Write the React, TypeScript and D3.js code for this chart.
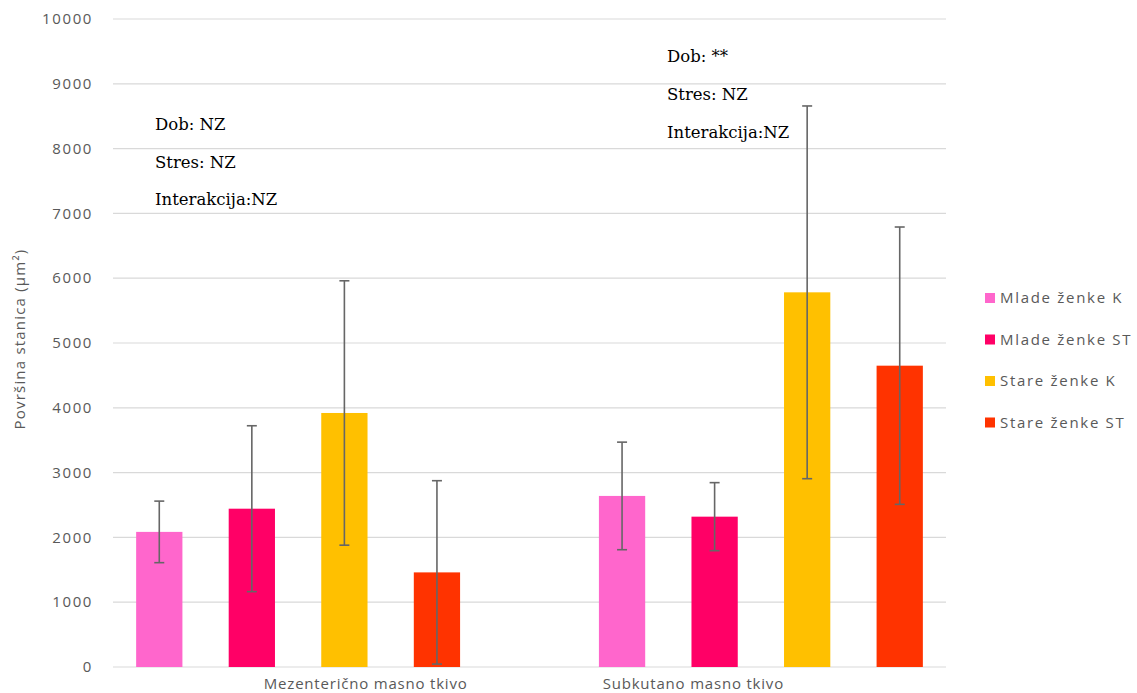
import React from "react";
import * as d3 from "d3";

const categories = ["Mezenterično masno tkivo", "Subkutano masno tkivo"];
const seriesNames = ["Mlade ženke K", "Mlade ženke ST", "Stare ženke K", "Stare ženke ST"];
const seriesColors = ["#ff66cc", "#ff0066", "#ffc000", "#ff3300"];
// means per series, [mezenterično, subkutano]
const means = [
  [2085, 2640],
  [2443, 2320],
  [3920, 5782],
  [1460, 4650],
];
const sds = [
  [475, 830],
  [1280, 525],
  [2040, 2876],
  [1415, 2140],
];
const yTicks = [0, 1000, 2000, 3000, 4000, 5000, 6000, 7000, 8000, 9000, 10000];
const annotLeft = ["Dob: NZ", "Stres: NZ", "Interakcija:NZ"];
const annotRight = ["Dob: **", "Stres: NZ", "Interakcija:NZ"];

const W = 1137;
const H = 693;

export default function App() {
  const y = d3.scaleLinear().domain([0, 10000]).range([667, 19]);
  // slot scale: 4 bars per group, one empty slot between groups
  const slot = d3.scaleLinear().domain([-0.5, 8.5]).range([113, 946]);
  const slotW = slot(1) - slot(0);
  const barW = slotW * 0.5;
  const groupStart = [0, 5];
  const labelSlot = [2.23, 5.77];
  const grey = "#595959";
  const tickFont = "'Open Sans', 'DejaVu Sans', sans-serif";
  const serif = "'DejaVu Serif', serif";

  return (
    <svg width={W} height={H} style={{ position: "absolute", left: 0, top: 0, background: "#fff" }}>
      <rect x={0} y={0} width={W} height={H} fill="#fff" />
      {yTicks.map((t) => (
        <g key={t}>
          <line x1={113} x2={946} y1={y(t)} y2={y(t)} stroke="#d9d9d9" strokeWidth={1.2} />
          <text
            x={93}
            y={y(t)}
            dy="0.35em"
            textAnchor="end"
            fontFamily={tickFont}
            fontSize={15}
            letterSpacing={1.6}
            fill={grey}
          >
            {t}
          </text>
        </g>
      ))}
      <text
        transform={`translate(25,${339}) rotate(-90)`}
        textAnchor="middle"
        fontFamily={tickFont}
        fontSize={15}
        letterSpacing={1.2}
        fill={grey}
      >
        Površina stanica (µm²)
      </text>
      {seriesNames.map((s, si) =>
        categories.map((c, ci) => {
          const cx = slot(groupStart[ci] + si);
          const m = means[si][ci];
          const sd = sds[si][ci];
          return (
            <g key={s + c}>
              <rect x={cx - barW / 2} y={y(m)} width={barW} height={y(0) - y(m)} fill={seriesColors[si]} />
              <line x1={cx} x2={cx} y1={y(m + sd)} y2={y(m - sd)} stroke="#666" strokeWidth={1.6} />
              <line x1={cx - 5} x2={cx + 5} y1={y(m + sd)} y2={y(m + sd)} stroke="#666" strokeWidth={1.6} />
              <line x1={cx - 5} x2={cx + 5} y1={y(m - sd)} y2={y(m - sd)} stroke="#666" strokeWidth={1.6} />
            </g>
          );
        })
      )}
      {categories.map((c, ci) => (
        <text
          key={c}
          x={slot(labelSlot[ci])}
          y={689}
          textAnchor="middle"
          fontFamily={tickFont}
          fontSize={15}
          letterSpacing={0.8}
          fill={grey}
        >
          {c}
        </text>
      ))}
      {annotLeft.map((a, i) => (
        <text key={"l" + i} x={155} y={130 + i * 37.5} fontFamily={serif} fontSize={16.5} fill="#000">
          {a}
        </text>
      ))}
      {annotRight.map((a, i) => (
        <text key={"r" + i} x={667} y={62 + i * 38} fontFamily={serif} fontSize={16.5} fill="#000">
          {a}
        </text>
      ))}
      {seriesNames.map((s, si) => {
        const ly = 298 + si * 41.5;
        return (
          <g key={s}>
            <rect x={985} y={ly - 5} width={10} height={10} fill={seriesColors[si]} />
            <text
              x={1000}
              y={ly}
              dy="0.35em"
              fontFamily={tickFont}
              fontSize={15}
              letterSpacing={1.7}
              fill={grey}
            >
              {s}
            </text>
          </g>
        );
      })}
    </svg>
  );
}
